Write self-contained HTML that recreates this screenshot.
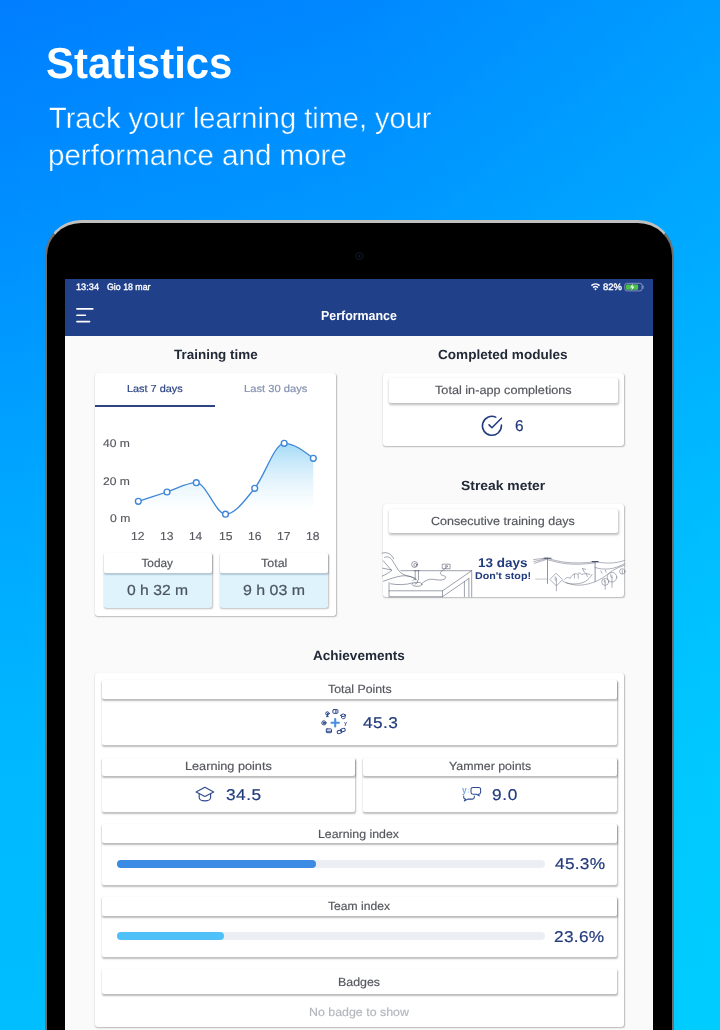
<!DOCTYPE html>
<html lang="en">
<head>
<meta charset="utf-8">
<title>Statistics</title>
<style>
html,body{margin:0;padding:0;}
body{width:720px;height:1030px;overflow:hidden;font-family:"Liberation Sans",sans-serif;}
#root{position:relative;width:720px;height:1030px;overflow:hidden;background:linear-gradient(to right,rgba(0,255,255,0) 0%,rgba(0,255,255,.08) 50%,rgba(0,255,255,.24) 100%),linear-gradient(to bottom,rgb(0,126,255) 0%,rgb(0,146,255) 25%,rgb(0,168,255) 49.5%,rgb(0,184,255) 74%,rgb(0,190,255) 100%);}
#root *{box-sizing:border-box;}
.abs{position:absolute;}
.t{position:absolute;white-space:nowrap;margin:0;padding:0;transform-origin:0 0;text-rendering:geometricPrecision;}
.device{position:absolute;left:44.8px;top:220.1px;width:629px;height:900px;border-radius:36px;background:#000;
  border:2.4px solid #6f6f6f;border-top:3px solid #c0c0c0;}
.screen{position:absolute;left:65.4px;top:279px;width:587.5px;height:760px;background:#fafafa;}
.navbar{position:absolute;left:65.4px;top:279px;width:587.5px;height:56.5px;background:#20408a;}
.card{position:absolute;background:#fff;border-radius:3px;box-shadow:0.4px 1px 1.5px rgba(0,0,0,.26),0 0 1px rgba(0,0,0,.10);}
.box{position:absolute;background:#fff;border-radius:2px;box-shadow:0.4px 1.4px 1.8px rgba(0,0,0,.25);}
.lab{position:absolute;background:#fff;border-radius:2px;box-shadow:0.5px 1.4px 1.8px rgba(0,0,0,.27);}
.val{position:absolute;background:#dff3fd;border-radius:0 0 3px 3px;}
.track{position:absolute;height:8.2px;border-radius:4.1px;background:#ebeef2;}
.fill{position:absolute;height:8.2px;border-radius:4.1px;}
svg{position:absolute;left:0;top:0;overflow:visible;}
</style>
</head>
<body>
<div id="root">
  <div class="device"></div>
  <div class="abs" style="left:355.3px;top:252.1px;width:8.4px;height:8.4px;border-radius:50%;background:#03060b;border:1.3px solid #0d131d;"></div>
  <div class="abs" style="left:358.6px;top:255.4px;width:1.8px;height:1.8px;border-radius:50%;background:#12233f;"></div>
  <div class="screen"></div>
  <div class="navbar"></div>

  <!-- Training time card -->
  <div class="card" style="left:95px;top:372.5px;width:241.2px;height:243.7px;"></div>
  <div class="abs" style="left:95px;top:405px;width:120.3px;height:1.8px;background:#2d447f;"></div>
  <div class="box" style="left:103.7px;top:553.3px;width:108px;height:54.2px;"></div>
  <div class="val" style="left:103.7px;top:572.5px;width:108px;height:35px;"></div>
  <div class="lab" style="left:103.7px;top:553.3px;width:108px;height:19.4px;box-shadow:0.4px 1.2px 1.6px rgba(0,30,50,.2);"></div>
  <div class="box" style="left:220px;top:553.3px;width:107.8px;height:54.2px;"></div>
  <div class="val" style="left:220px;top:572.5px;width:107.8px;height:35px;"></div>
  <div class="lab" style="left:220px;top:553.3px;width:107.8px;height:19.4px;box-shadow:0.4px 1.2px 1.6px rgba(0,30,50,.2);"></div>

  <!-- Completed modules card -->
  <div class="card" style="left:383px;top:372.5px;width:240.8px;height:73.3px;"></div>
  <div class="lab" style="left:388.8px;top:378px;width:229.5px;height:25px;box-shadow:0.3px 1.2px 2.4px rgba(0,0,0,.26);"></div>

  <!-- Streak meter card -->
  <div class="card" style="left:383px;top:504.2px;width:240.8px;height:93.1px;"></div>
  <div class="lab" style="left:388.8px;top:509px;width:229.5px;height:24.4px;box-shadow:0.3px 1.2px 2.4px rgba(0,0,0,.26);"></div>

  <!-- Achievements card -->
  <div class="card" style="left:95px;top:673.3px;width:529.2px;height:353.4px;"></div>
  <div class="box" style="left:102.2px;top:680px;width:514.8px;height:65.4px;"></div>
  <div class="lab" style="left:102.2px;top:680px;width:514.8px;height:19.2px;"></div>
  <div class="box" style="left:102.2px;top:757.8px;width:252.9px;height:54.4px;"></div>
  <div class="lab" style="left:102.2px;top:757.8px;width:252.9px;height:18.2px;"></div>
  <div class="box" style="left:363.3px;top:757.8px;width:253.5px;height:54.4px;"></div>
  <div class="lab" style="left:363.3px;top:757.8px;width:253.5px;height:18.2px;"></div>
  <div class="box" style="left:102.2px;top:824.4px;width:514.8px;height:60.7px;"></div>
  <div class="lab" style="left:102.2px;top:824.4px;width:514.8px;height:18.9px;"></div>
  <div class="track" style="left:116.7px;top:859.6px;width:428.3px;"></div>
  <div class="fill" style="left:116.7px;top:859.6px;width:198.9px;background:#3b8ae3;"></div>
  <div class="box" style="left:102.2px;top:897.3px;width:514.8px;height:60px;"></div>
  <div class="lab" style="left:102.2px;top:897.3px;width:514.8px;height:18.9px;"></div>
  <div class="track" style="left:116.7px;top:932.2px;width:428.3px;"></div>
  <div class="fill" style="left:116.7px;top:932.2px;width:107.7px;background:#4fc0f8;"></div>
  <div class="lab" style="left:102.2px;top:968.9px;width:514.8px;height:25.5px;"></div>

  <!-- vector art -->
  <svg width="720" height="1030" viewBox="0 0 720 1030" fill="none">
    <defs>
      <linearGradient id="ag" gradientUnits="userSpaceOnUse" x1="0" y1="443" x2="0" y2="512">
        <stop offset="0" stop-color="#9fd8f6" stop-opacity="0.95"/>
        <stop offset="1" stop-color="#d8f0fc" stop-opacity="0"/>
      </linearGradient>
    </defs>
    <!-- hamburger -->
    <g stroke="#fff" stroke-width="1.6" stroke-linecap="round">
      <path d="M76.9 308.9H92.8M76.9 315.3H85.4M76.9 321.6H89.6"/>
    </g>
    <!-- wifi -->
    <g stroke="#fff" stroke-width="1.5" stroke-linecap="butt">
      <path d="M591.4 285.6a6.2 6.2 0 0 1 8.2 0"/>
      <path d="M593.1 287.6a3.6 3.6 0 0 1 4.8 0"/>
    </g>
    <circle cx="595.5" cy="289.2" r="0.95" fill="#fff"/>
    <!-- battery -->
    <rect x="624.8" y="283.3" width="17.2" height="7.6" rx="2" stroke="#9aa6c8" stroke-width="0.8"/>
    <path d="M643 285.8v2.6" stroke="#9aa6c8" stroke-width="1" stroke-linecap="round"/>
    <rect x="625.9" y="284.4" width="12.3" height="5.4" rx="1" fill="#4cc14a"/>
    <path d="M632.9 283.6l-2.6 3.9h2l-0.9 3.2 2.9-4.1h-2z" fill="#fff"/>
    <!-- chart -->
    <path d="M138.3,501.3 C147.9,498.2 157.4,495.1 167.0,492.0 C176.8,488.9 186.5,482.7 196.3,482.7 C206.0,482.7 215.8,514.2 225.5,514.2 C235.2,514.2 245.0,500.0 254.7,488.3 C264.5,476.5 274.4,443.3 284.2,443.3 C293.9,443.3 303.6,450.8 313.3,458.3 L313.3,518 L138.3,518 Z" fill="url(#ag)"/>
    <path d="M138.3,501.3 C147.9,498.2 157.4,495.1 167.0,492.0 C176.8,488.9 186.5,482.7 196.3,482.7 C206.0,482.7 215.8,514.2 225.5,514.2 C235.2,514.2 245.0,500.0 254.7,488.3 C264.5,476.5 274.4,443.3 284.2,443.3 C293.9,443.3 303.6,450.8 313.3,458.3" stroke="#3f86d8" stroke-width="1.3" stroke-linejoin="round"/>
    <g fill="#fff" stroke="#3f86d8" stroke-width="1.4"><circle cx="138.3" cy="501.3" r="2.9"/><circle cx="167.0" cy="492.0" r="2.9"/><circle cx="196.3" cy="482.7" r="2.9"/><circle cx="225.5" cy="514.2" r="2.9"/><circle cx="254.7" cy="488.3" r="2.9"/><circle cx="284.2" cy="443.3" r="2.9"/><circle cx="313.3" cy="458.3" r="2.9"/></g>
    <!-- check circle -->
    <g stroke="#223b7c" stroke-width="1.65" stroke-linecap="round" stroke-linejoin="round" transform="translate(480.5 414.4) scale(0.95)">
      <path d="M22 11.08V12a10 10 0 1 1-5.93-9.14"/>
      <path d="M22 4 12 14.01 9 11.01"/>
    </g>
    <!-- total points icon -->
    <g stroke="#4a90e2" stroke-width="2.1" stroke-linecap="round">
      <path d="M335.2 719v7.4M331.5 722.7h7.4"/>
    </g>
    <g stroke="#2a4488" stroke-width="1" stroke-linecap="round" stroke-linejoin="round">
      <circle cx="327.4" cy="713.5" r="1.7"/>
      <path d="M327.4 713.2v3.2M326.6 716.6h1.6"/>
      <rect x="332.9" y="709.6" width="5" height="3.7" rx="0.7"/>
      <path d="M335.9 709.8v3.3"/>
      <path d="M340.6 715.2l2.7-1.3 2.7 1.3-2.7 1.3z"/>
      <path d="M341.5 716v1.6c0 .6 .8 1.1 1.8 1.1s1.8-.5 1.8-1.1V716"/>
      <circle cx="323.9" cy="722.9" r="2.1"/>
      <circle cx="323.9" cy="722.9" r="0.7" fill="#2f4a8f"/>
      <rect x="326.3" y="728.9" width="5.2" height="3.8" rx="0.7"/>
      <path d="M326.6 731.3h4.6" stroke-width="1.1"/>
      <rect x="340.6" y="728.6" width="4.6" height="3" rx="1.3" transform="rotate(-18 342.9 730.1)"/>
      <rect x="337.2" y="730.4" width="4.6" height="3" rx="1.3" transform="rotate(-18 339.5 731.9)"/>
    </g>
    <!-- graduation cap -->
    <g stroke="#2f4a8f" stroke-width="1.15" stroke-linecap="round" stroke-linejoin="round">
      <path d="M196.1 791.9l8.8-4.6 8.8 4.6-8.8 4.6z"/>
      <path d="M199.2 793.8v3.9c0 1.7 2.5 3.1 5.7 3.1s5.700-1.400 5.700-3.100v-3.900"/>
    </g>
    <!-- yammer icon -->
    <g stroke="#2f4a8f" stroke-width="1.05" stroke-linecap="round" stroke-linejoin="round">
      <path d="M472.900 787.400h5.800a1.900 1.900 0 0 1 1.900 1.900v3a1.900 1.900 0 0 1-1.900 1.900h-.3l.9 1.700-2.900-1.700h-3.500a1.900 1.900 0 0 1-1.900-1.900v-3a1.900 1.900 0 0 1 1.900-1.900z"/>
      <path d="M463.700 795.900v1.300a1.900 1.900 0 0 0 1.900 1.900l-1.300 1.900 3.500-1.900h4.600a1.900 1.900 0 0 0 1.900-1.900v-1.300"/>
    </g>
    <!-- streak illustration: desk -->
    <g stroke="#5d6173" stroke-width="0.6" stroke-linecap="round" stroke-linejoin="round">
      <path d="M400.800 570.700H471.700L442.500 590.800H389V596.700H442.500L468.900 578.500"/>
      <path d="M389 590.800V582.600M442.500 590.800V596.700M464.400 581.600V596.700M468.900 578.500V596.700M471.700 570.700V596.700"/>
      <path d="M382 553.200c4.500-1.800 9.500 .600 11.600 5.600"/>
      <path d="M384.600 557.300c2.600-1.200 5.400-.200 7.200 2.300l6.600 10.600c2.200 3.400 6.800 5.600 12.300 6.600l4.300 1.400"/>
      <path d="M383.300 560.800l8.300 9.700c-2.500 2.200-5.800 4-9.300 5.600"/>
      <path d="M382.600 568.200l9 1.800M383.400 581.200c6.600-2.300 12.500-4.400 17.800-5.200 5.700-.8 11.200 .3 14.100 3.200"/>
      <path d="M390.500 583.800c7.300 1.300 15.300 1.200 22.300-.9"/>
      <circle cx="414.600" cy="564.500" r="3"/>
      <circle cx="415.300" cy="564.900" r="1.500"/>
      <path d="M415.200 570.700v9.200M418.500 570.700v9.200M414.200 570.700h5.200"/>
      <ellipse cx="417" cy="584.300" rx="5" ry="2"/>
      <path d="M412.900 580.400c1.200-1.900 3.800-1.800 4.600 .2 .7 1.800-.8 3.500-2.700 3.400"/>
      <rect x="442.600" y="564.200" width="7.500" height="4.500"/>
      <circle cx="446.400" cy="566.300" r="1"/>
      <path d="M446 567.300c-.5 3-6.200 3.300-5.600 6.200 .6 2.800 5.800 1.500 5.200 4.200-.700 3-7.600 2.500-12 1.700-4-.700-7.600 .700-11.400 3.800"/>
    </g>
    <!-- streak illustration: power lines -->
    <g stroke="#6c7082" stroke-width="0.55" stroke-linecap="round" stroke-linejoin="round">
      <path d="M533.500 559.600l14-1.700M533.800 561.600l13.700-3.200M534.300 563.400l13.200-4.400"/>
      <path d="M547.500 558.400c12 3.400 24 6.300 47.500 3.300 10 1.800 20 2.200 29.400-1.200"/>
      <path d="M547.500 559.600c12 3.600 24 6.500 47.500 3.300"/>
      <path d="M595 567.500c10 3.200 20 1.600 29.400-3.800"/>
      <path d="M535.600 579.100h11.800" stroke-width=".4"/>
      <path d="M556.400 573.500l6.200 6.200-6.200 6.200-6.200-6.200zM556.400 578v12.800M555.200 576.800v3.200l1.200 1"/>
      <path d="M562.800 581.100c8 4.600 19 6 32.400 .6 5-2 9.500-5 13.600-8.400 4.700-3.800 9.700-6 15.600-8"/>
      <path d="M564.500 579.400c1.600-2.200 4.200-2.600 5.600-.9 1.500-3.400 4.400-5.400 7.200-4.400 1.500-1.600 3.600-1.300 4.300 .5 2.700-1.300 5.700-1.200 8.400-.1"/>
      <path d="M566 582.800c6 1.800 13.800 1.500 19-1.200 3-1.600 5.300-4.200 7.100-7.200"/>
      <path d="M582.500 568.600l2 3.800M582.500 568.600l3.200 .7M574.400 574v4.200M578.200 574.400v4M586 573.200l1.500 3.600M600.800 570.900l1.200 2.400M605.400 569.900l.6 2.200"/>
      <circle cx="605.200" cy="581.900" r="3.500"/>
      <path d="M605.200 580.500v8.900M604.200 579.600v2.200l1 .8"/>
      <circle cx="612" cy="577.200" r="4.800"/>
      <path d="M612 575.600v11.700M610.800 574.300v2.600l1.200 1"/>
      <circle cx="622.300" cy="571.400" r="2.700"/>
      <path d="M622.300 570.200v3.400"/>
    </g>
    <g stroke="#8288a0" stroke-linecap="butt">
      <path d="M547.500 558.200V583.900" stroke-width="1" opacity=".9"/>
      <path d="M595.100 561.600V581.900" stroke-width="1" opacity=".9"/>
      <path d="M543.700 558.300h7.800M591.700 561.600h6.800" stroke-width="1.100" stroke="#4a5068"/>
    </g>
    <text x="462.100" y="792.600" font-family="Liberation Sans, sans-serif" font-size="8.400" font-weight="700" fill="#6fa7e6">y</text>
    <circle cx="468.300" cy="789.700" r="0.550" fill="#8fbcee"/><circle cx="468.300" cy="792.100" r="0.550" fill="#8fbcee"/>
    <text x="344.300" y="724.800" font-family="Liberation Sans, sans-serif" font-size="4.600" font-weight="700" fill="#2f4a8f">y</text>

  </svg>

<h1 class="t" style="left:46.00px;top:43.00px;font-size:43.5px;line-height:43.5px;font-weight:700;color:#fff;transform:scaleX(0.9638);">Statistics</h1>
<p class="t" style="left:49.26px;top:104.00px;font-size:29.3px;line-height:29.3px;font-weight:400;color:#fff;transform:scaleX(0.9897);-webkit-text-stroke:0.4px rgb(0,140,255);">Track your learning time, your</p>
<p class="t" style="left:48.28px;top:141.00px;font-size:29.3px;line-height:29.3px;font-weight:400;color:#fff;transform:scaleX(1.0085);-webkit-text-stroke:0.4px rgb(0,143,255);">performance and more</p>
<div class="t" style="left:76.31px;top:283.00px;font-size:9.3px;line-height:9.3px;font-weight:400;color:#fff;transform:scaleX(0.9890);-webkit-text-stroke:0.35px #fff;">13:34</div>
<div class="t" style="left:107.46px;top:283.00px;font-size:9.3px;line-height:9.3px;font-weight:400;color:#fff;transform:scaleX(0.9464);-webkit-text-stroke:0.35px #fff;">Gio 18 mar</div>
<div class="t" style="left:603.35px;top:283.00px;font-size:9.3px;line-height:9.3px;font-weight:400;color:#fff;transform:scaleX(1.0192);-webkit-text-stroke:0.35px #fff;">82%</div>
<h2 class="t" style="left:320.76px;top:309.00px;font-size:13.2px;line-height:13.2px;font-weight:700;color:#fff;transform:scaleX(0.9413);">Performance</h2>
<h2 class="t" style="left:173.95px;top:348.00px;font-size:13.3px;line-height:13.3px;font-weight:700;color:#222a38;transform:scaleX(1.0122);">Training time</h2>
<h2 class="t" style="left:438.19px;top:348.00px;font-size:13.3px;line-height:13.3px;font-weight:700;color:#222a38;transform:scaleX(1.0198);">Completed modules</h2>
<h2 class="t" style="left:460.78px;top:479.00px;font-size:13.3px;line-height:13.3px;font-weight:700;color:#222a38;transform:scaleX(1.0445);">Streak meter</h2>
<h2 class="t" style="left:313.29px;top:649.00px;font-size:13.3px;line-height:13.3px;font-weight:700;color:#222a38;transform:scaleX(1.0180);">Achievements</h2>
<div class="t" style="left:127.20px;top:385.00px;font-size:10.2px;line-height:10.2px;font-weight:400;color:#2f4585;transform:scaleX(1.0686);-webkit-text-stroke:0.2px #2f4585;">Last 7 days</div>
<div class="t" style="left:244.18px;top:385.00px;font-size:10.2px;line-height:10.2px;font-weight:400;color:#8590b0;transform:scaleX(1.0960);-webkit-text-stroke:0.2px #8590b0;">Last 30 days</div>
<div class="t" style="left:103.03px;top:439.00px;font-size:11.1px;line-height:11.1px;font-weight:400;color:#55575d;transform:scaleX(1.0905);-webkit-text-stroke:0.15px #55575d;">40 m</div>
<div class="t" style="left:103.06px;top:477.00px;font-size:11.1px;line-height:11.1px;font-weight:400;color:#55575d;transform:scaleX(1.0894);-webkit-text-stroke:0.15px #55575d;">20 m</div>
<div class="t" style="left:109.73px;top:514.00px;font-size:11.1px;line-height:11.1px;font-weight:400;color:#55575d;transform:scaleX(1.0971);-webkit-text-stroke:0.15px #55575d;">0 m</div>
<div class="t" style="left:131.41px;top:531.00px;font-size:11.6px;line-height:11.6px;font-weight:400;color:#55575d;transform:scaleX(1.0468);-webkit-text-stroke:0.15px #55575d;">12</div>
<div class="t" style="left:160.11px;top:531.00px;font-size:11.6px;line-height:11.6px;font-weight:400;color:#55575d;transform:scaleX(1.0468);-webkit-text-stroke:0.15px #55575d;">13</div>
<div class="t" style="left:189.43px;top:531.00px;font-size:11.6px;line-height:11.6px;font-weight:400;color:#55575d;transform:scaleX(1.0250);-webkit-text-stroke:0.15px #55575d;">14</div>
<div class="t" style="left:218.61px;top:531.00px;font-size:11.6px;line-height:11.6px;font-weight:400;color:#55575d;transform:scaleX(1.0468);-webkit-text-stroke:0.15px #55575d;">15</div>
<div class="t" style="left:247.81px;top:531.00px;font-size:11.6px;line-height:11.6px;font-weight:400;color:#55575d;transform:scaleX(1.0468);-webkit-text-stroke:0.15px #55575d;">16</div>
<div class="t" style="left:277.31px;top:531.00px;font-size:11.6px;line-height:11.6px;font-weight:400;color:#55575d;transform:scaleX(1.0468);-webkit-text-stroke:0.15px #55575d;">17</div>
<div class="t" style="left:306.41px;top:531.00px;font-size:11.6px;line-height:11.6px;font-weight:400;color:#55575d;transform:scaleX(1.0468);-webkit-text-stroke:0.15px #55575d;">18</div>
<div class="t" style="left:141.45px;top:558.00px;font-size:11.8px;line-height:11.8px;font-weight:400;color:#55575d;-webkit-text-stroke:0.18px #55575d;">Today</div>
<div class="t" style="left:261.04px;top:558.00px;font-size:11.8px;line-height:11.8px;font-weight:400;color:#55575d;transform:scaleX(1.0583);-webkit-text-stroke:0.18px #55575d;">Total</div>
<div class="t" style="left:127.46px;top:584.00px;font-size:14.5px;line-height:14.5px;font-weight:400;color:#4a545e;transform:scaleX(1.0818);-webkit-text-stroke:0.2px #4a545e;">0 h 32 m</div>
<div class="t" style="left:243.15px;top:584.00px;font-size:14.5px;line-height:14.5px;font-weight:400;color:#4a545e;transform:scaleX(1.1000);-webkit-text-stroke:0.2px #4a545e;">9 h 03 m</div>
<div class="t" style="left:435.03px;top:385.00px;font-size:11.8px;line-height:11.8px;font-weight:400;color:#55575d;transform:scaleX(1.0743);-webkit-text-stroke:0.18px #55575d;">Total in-app completions</div>
<div class="t" style="left:515.46px;top:419.00px;font-size:15.7px;line-height:15.7px;font-weight:400;color:#223b7c;transform:scaleX(0.9867);-webkit-text-stroke:0.2px #223b7c;">6</div>
<div class="t" style="left:431.17px;top:516.00px;font-size:11.8px;line-height:11.8px;font-weight:400;color:#55575d;transform:scaleX(1.0644);-webkit-text-stroke:0.18px #55575d;">Consecutive training days</div>
<div class="t" style="left:478.20px;top:557.00px;font-size:12.65px;line-height:12.65px;font-weight:700;color:#223b7c;transform:scaleX(1.0696);">13 days</div>
<div class="t" style="left:474.88px;top:572.00px;font-size:9.75px;line-height:9.75px;font-weight:700;color:#223b7c;transform:scaleX(1.0964);">Don&#x27;t stop!</div>
<div class="t" style="left:327.54px;top:684.00px;font-size:11.8px;line-height:11.8px;font-weight:400;color:#55575d;transform:scaleX(1.0440);-webkit-text-stroke:0.18px #55575d;">Total Points</div>
<div class="t" style="left:363.23px;top:716.00px;font-size:15.7px;line-height:15.7px;font-weight:400;color:#223b7c;letter-spacing:0.386px;transform:scaleX(1.1000);-webkit-text-stroke:0.2px #223b7c;">45.3</div>
<div class="t" style="left:184.79px;top:761.00px;font-size:11.8px;line-height:11.8px;font-weight:400;color:#55575d;transform:scaleX(1.0755);-webkit-text-stroke:0.18px #55575d;">Learning points</div>
<div class="t" style="left:226.35px;top:788.00px;font-size:15.7px;line-height:15.7px;font-weight:400;color:#223b7c;letter-spacing:0.470px;transform:scaleX(1.1000);-webkit-text-stroke:0.2px #223b7c;">34.5</div>
<div class="t" style="left:448.64px;top:761.00px;font-size:11.8px;line-height:11.8px;font-weight:400;color:#55575d;transform:scaleX(1.0482);-webkit-text-stroke:0.18px #55575d;">Yammer points</div>
<div class="t" style="left:492.28px;top:788.00px;font-size:15.7px;line-height:15.7px;font-weight:400;color:#223b7c;letter-spacing:0.568px;transform:scaleX(1.1000);-webkit-text-stroke:0.2px #223b7c;">9.0</div>
<div class="t" style="left:318.12px;top:829.00px;font-size:11.8px;line-height:11.8px;font-weight:400;color:#55575d;transform:scaleX(1.0458);-webkit-text-stroke:0.18px #55575d;">Learning index</div>
<div class="t" style="left:554.52px;top:857.00px;font-size:15.7px;line-height:15.7px;font-weight:400;color:#223b7c;letter-spacing:0.267px;transform:scaleX(1.1000);-webkit-text-stroke:0.2px #223b7c;">45.3%</div>
<div class="t" style="left:328.14px;top:901.00px;font-size:11.8px;line-height:11.8px;font-weight:400;color:#55575d;transform:scaleX(1.0267);-webkit-text-stroke:0.18px #55575d;">Team index</div>
<div class="t" style="left:554.47px;top:930.00px;font-size:15.7px;line-height:15.7px;font-weight:400;color:#223b7c;letter-spacing:0.278px;transform:scaleX(1.1000);-webkit-text-stroke:0.2px #223b7c;">23.6%</div>
<div class="t" style="left:337.61px;top:977.00px;font-size:11.8px;line-height:11.8px;font-weight:400;color:#55575d;transform:scaleX(1.0487);-webkit-text-stroke:0.18px #55575d;">Badges</div>
<div class="t" style="left:308.81px;top:1007.00px;font-size:11.8px;line-height:11.8px;font-weight:400;color:#b4b7be;transform:scaleX(1.0508);-webkit-text-stroke:0.18px #b4b7be;">No badge to show</div>
</div>
</body>
</html>
